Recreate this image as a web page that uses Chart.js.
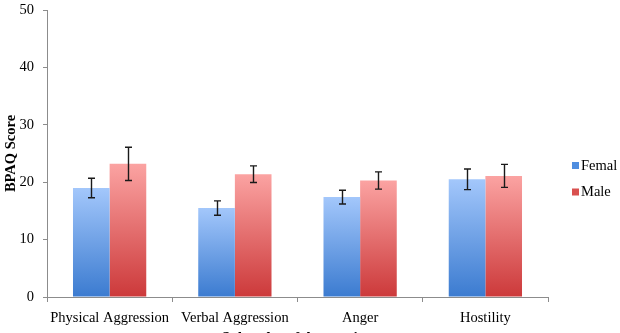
<!DOCTYPE html>
<html>
<head>
<meta charset="utf-8">
<script src="https://cdn.jsdelivr.net/npm/chart.js@4/dist/chart.umd.min.js"></script>
<style>
  html, body { margin: 0; padding: 0; background: #fff; }
  #wrap { width: 620px; height: 333px; position: relative; }
</style>
</head>
<body>
<div id="wrap"><canvas id="c" width="620" height="333"></canvas></div>
<script>
const categories = ["Physical Aggression", "Verbal Aggression", "Anger", "Hostility"];
const seriesNames = ["Femal", "Male"];
const femaleValues = [19.0, 15.5, 17.4, 20.5];
const maleValues = [23.2, 21.4, 20.3, 21.1];
const femaleErrors = [1.7, 1.25, 1.2, 1.8];
const maleErrors = [2.9, 1.45, 1.5, 2.0];
const yTicks = [0, 10, 20, 30, 40, 50];
const xTitle = "Subscales of Aggression";
const yTitle = "BPAQ Score";

const SERIF = "'Liberation Serif', 'Times New Roman', serif";
const FS = 14.5;

function gradFill(top, bottom) {
  return function (c) {
    const chart = c.chart;
    const scales = chart.scales;
    if (c.type !== 'data' || !scales || !scales.y) return bottom;
    const y0 = scales.y.getPixelForValue(0);
    const y1 = scales.y.getPixelForValue(c.raw);
    if (!isFinite(y0) || !isFinite(y1) || y0 === y1) return bottom;
    const g = chart.ctx.createLinearGradient(0, y1, 0, y0);
    g.addColorStop(0, top);
    g.addColorStop(1, bottom);
    return g;
  };
}

const errorSets = [femaleErrors, maleErrors];

const errorBarPlugin = {
  id: 'errorBars',
  afterDatasetsDraw(chart) {
    const ctx = chart.ctx;
    const y = chart.scales.y;
    ctx.save();
    ctx.strokeStyle = '#1a1a1a';
    ctx.lineWidth = 1.4;
    chart.data.datasets.forEach((ds, i) => {
      const meta = chart.getDatasetMeta(i);
      meta.data.forEach((el, j) => {
        const v = ds.data[j], e = errorSets[i][j];
        const x = Math.round(el.x) + 0.5;
        const yt = y.getPixelForValue(v + e);
        const yb = y.getPixelForValue(v - e);
        ctx.beginPath();
        ctx.moveTo(x, yt); ctx.lineTo(x, yb);
        ctx.moveTo(x - 3.5, yt); ctx.lineTo(x + 3.5, yt);
        ctx.moveTo(x - 3.5, yb); ctx.lineTo(x + 3.5, yb);
        ctx.stroke();
      });
    });
    ctx.restore();
  }
};

const legendColors = ['#4f8ee0', '#d9504f'];
const legendPlugin = {
  id: 'sideLegend',
  afterDraw(chart) {
    const ctx = chart.ctx;
    ctx.save();
    ctx.font = FS + "px " + SERIF;
    ctx.textBaseline = 'middle';
    const ys = [165.5, 192];
    chart.data.datasets.forEach((ds, i) => {
      ctx.fillStyle = legendColors[i];
      ctx.fillRect(572, ys[i] - 3.5, 7, 7);
      ctx.fillStyle = '#000';
      ctx.fillText(ds.label, 581, ys[i] + 0.5);
    });
    ctx.restore();
  }
};

new Chart(document.getElementById('c'), {
  type: 'bar',
  data: {
    labels: categories,
    datasets: [
      { label: seriesNames[0], data: femaleValues, backgroundColor: gradFill('#a3c7fb', '#3b7bd0'), borderWidth: 0 },
      { label: seriesNames[1], data: maleValues, backgroundColor: gradFill('#fba3a2', '#cc393a'), borderWidth: 0 }
    ]
  },
  options: {
    responsive: false,
    animation: false,
    devicePixelRatio: 1,
    layout: { padding: { left: 0, right: 72, top: 10, bottom: 0 } },
    datasets: { bar: { categoryPercentage: 0.585, barPercentage: 1.0 } },
    plugins: {
      legend: { display: false },
      tooltip: { enabled: false }
    },
    scales: {
      x: {
        afterFit(s) { s.height = 36; s.paddingLeft = 0; s.paddingRight = 0; },
        grid: { display: true, drawOnChartArea: false, drawTicks: true, tickLength: 5, offset: true, color: '#8c8c8c', tickColor: '#8c8c8c' },
        border: { color: '#8c8c8c', width: 1 },
        ticks: { color: '#000', font: { family: SERIF, size: FS }, padding: 7, maxRotation: 0, autoSkip: false },
        title: { display: true, text: xTitle, color: '#000', font: { family: SERIF, size: 15, weight: 'bold' }, padding: { top: 0, bottom: -14 } }
      },
      y: {
        min: 0, max: 50,
        afterFit(s) { s.width = 47; s.paddingTop = 0; s.paddingBottom = 0; },
        afterBuildTicks(s) { s.ticks = yTicks.map(v => ({ value: v })); },
        grid: { display: true, drawOnChartArea: false, drawTicks: true, tickLength: 4, color: '#8c8c8c', tickColor: '#8c8c8c' },
        border: { color: '#8c8c8c', width: 1 },
        ticks: { color: '#000', font: { family: SERIF, size: FS }, padding: 9 },
        title: { display: true, text: yTitle, color: '#000', font: { family: SERIF, size: 14.5, weight: 'bold' }, padding: { top: 3, bottom: 0 } }
      }
    }
  },
  plugins: [errorBarPlugin, legendPlugin]
});
</script>
</body>
</html>
